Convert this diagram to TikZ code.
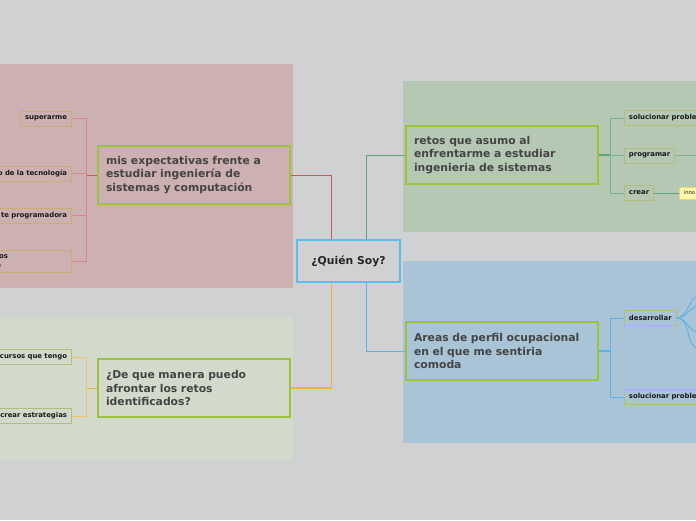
\documentclass[tikz,border=0pt]{standalone}
\usepackage{fontspec}
\setmainfont{DejaVu Sans}
\usepackage{xcolor}
\usetikzlibrary{positioning,calc}

\definecolor{bgGray}{HTML}{D0D1D3}
\definecolor{zonePink}{HTML}{CDB0B1}
\definecolor{zoneSage}{HTML}{D3DACB}
\definecolor{zoneGreen}{HTML}{B5C8B4}
\definecolor{zoneBlue}{HTML}{A9C4D6}
\definecolor{topicBorder}{HTML}{9DC33B}
\definecolor{centreBorder}{HTML}{5BBDEB}
\definecolor{txtDark}{HTML}{444444}
\definecolor{lnRed}{HTML}{C9585C}
\definecolor{lnPink}{HTML}{DA8789}
\definecolor{lnYellow}{HTML}{E8B43C}
\definecolor{lnGreen}{HTML}{5EA57A}
\definecolor{lnBlue}{HTML}{5DB3E6}
\definecolor{boxTan}{HTML}{C8AF70}
\definecolor{boxOlive}{HTML}{B3BE7E}
\definecolor{innoFill}{HTML}{FFF6AE}
\definecolor{innoBorder}{HTML}{E6D77A}

\begin{document}
\begin{tikzpicture}[
  x=1pt, y=-1pt,
  centre/.style={rectangle, draw=centreBorder, line width=1.3pt, fill=bgGray,
                 minimum width=103pt, minimum height=42pt, inner sep=0pt,
                 font=\fontsize{10.8}{12}\selectfont\bfseries, text=black!85},
  topic/.style={rectangle, draw=topicBorder, line width=2pt, minimum width=192pt,
                minimum height=58pt, text width=176pt, inner xsep=8pt, inner ysep=0pt,
                align=left, font=\fontsize{10.8}{13.6}\selectfont\bfseries, text=txtDark},
  sub/.style={rectangle, draw=#1, line width=0.9pt, minimum height=15pt, inner xsep=4.5pt,
              inner ysep=0pt, font=\fontsize{6.9}{8}\selectfont\bfseries, text=black!90},
  sub/.default=boxTan,
  cutL/.style={sub=#1, anchor=east, text width=110pt, align=right},
  cutR/.style={sub=#1, anchor=west, text width=100pt, align=left},
  link/.style={line width=0.9pt}
]
  \useasboundingbox (0,0) rectangle (696,520);
  \clip (0,0) rectangle (696,520);
  \fill[bgGray] (0,0) rectangle (696,520);

  % zones
  \fill[zonePink]  (-5,64)   rectangle (293,288);
  \fill[zoneSage]  (-5,317)  rectangle (293,460);
  \fill[zoneGreen] (403,81)  rectangle (701,232);
  \fill[zoneBlue]  (403,261) rectangle (701,443);

  % main nodes
  \node[centre] (quien) at (348.5,261) {¿Quién Soy?};
  \node[topic] (expect) at (194,175)   {mis expectativas frente a\\estudiar ingeniería de\\sistemas y computación};
  \node[topic] (afront) at (194,388)   {¿De que manera puedo\\afrontar los retos\\identificados?};
  \node[topic] (retos)  at (502,155)   {retos que asumo al\\enfrentarme a estudiar\\ingenieria de sistemas};
  \node[topic] (areas)  at (502,351)   {Areas de perfil ocupacional\\en el que me sentiria\\comoda};

  % left, expectativas
  \node[sub, anchor=east] (superar) at (72,118.5) {superarme};
  \node[cutL=boxTan] (tecno)  at (72,173.5) {o de la tecnología};
  \node[cutL=boxTan] (progra) at (72,215.5) {te programadora};
  \node[cutL=boxTan, minimum height=22pt, font=\fontsize{6.9}{9}\selectfont\bfseries] (otros) at (72,261)
    {os\rule{59pt}{0pt}\\n\rule{66pt}{0pt}};

  % left, afrontar
  \node[cutL=boxOlive] (cursos) at (72,357)   {cursos que tengo};
  \node[cutL=boxOlive] (estrat) at (72,416)   {crear estrategias};

  % right, retos
  \node[cutR=boxOlive] (soluc1) at (624,118)   {solucionar proble};
  \node[sub=boxOlive, anchor=west] (program) at (624,155.5) {programar};
  \node[sub=boxOlive, anchor=west] (crear)   at (624,193)   {crear};
  \node[cutR=innoBorder, fill=innoFill, minimum height=12pt, text width=40pt,
        font=\fontsize{5.2}{6}\selectfont] (inno) at (679,193) {inno};

  % right, areas
  \node[sub=boxOlive, anchor=west] (desarr) at (624,318) {desarrollar};
  \node[cutR=boxOlive] (soluc2) at (624,397) {solucionar proble};

  % free ends at the right border
  \coordinate (progEnd) at (700,155.5);
  \coordinate (dA) at (700,296);
  \coordinate (dB) at (700,306);
  \coordinate (dC) at (700,333);
  \coordinate (dD) at (700,349);

  % from the centre
  \draw[link, lnRed]    ([xshift=-17pt]quien.north) |- (expect.east);
  \draw[link, lnGreen]  ([xshift=17.5pt]quien.north) |- (retos.west);
  \draw[link, lnYellow, line width=1.4pt] ([xshift=-17pt]quien.south) |- (afront.east);
  \draw[link, lnBlue]   ([xshift=17.5pt]quien.south) |- (areas.west);

  % expectativas branches
  \draw[link, lnRed] (expect.west) -- ++(-11,0) coordinate (jExp);
  \foreach \s in {superar, tecno, progra, otros}
    \draw[link, lnPink] (jExp) |- (\s.east);

  % afrontar branches
  \draw[link, lnYellow] (afront.west) -- ++(-11,0) coordinate (jAfr);
  \foreach \s in {cursos, estrat}
    \draw[link, lnYellow!80!white] (jAfr) |- (\s.east);

  % retos branches
  \draw[line width=1.5pt, lnGreen] (retos.east) -- ++(11,0) coordinate (jRet);
  \foreach \s in {soluc1, program, crear}
    \draw[link, lnGreen!85!white] (jRet) |- (\s.west);
  \draw[link, lnGreen!60!zoneGreen] (program.east) -- (progEnd);
  \draw[link, lnGreen] (crear.east) -- (inno.west);

  % areas branches
  \draw[line width=1.5pt, lnBlue] (areas.east) -- ++(11,0) coordinate (jAre);
  \foreach \s in {desarr, soluc2}
    \draw[link, lnBlue] (jAre) |- (\s.west);
  \foreach \e in {dA, dB, dC, dD}
    \draw[link, lnBlue] (desarr.east) to[out=0, in=180] (\e);
\end{tikzpicture}
\end{document}
